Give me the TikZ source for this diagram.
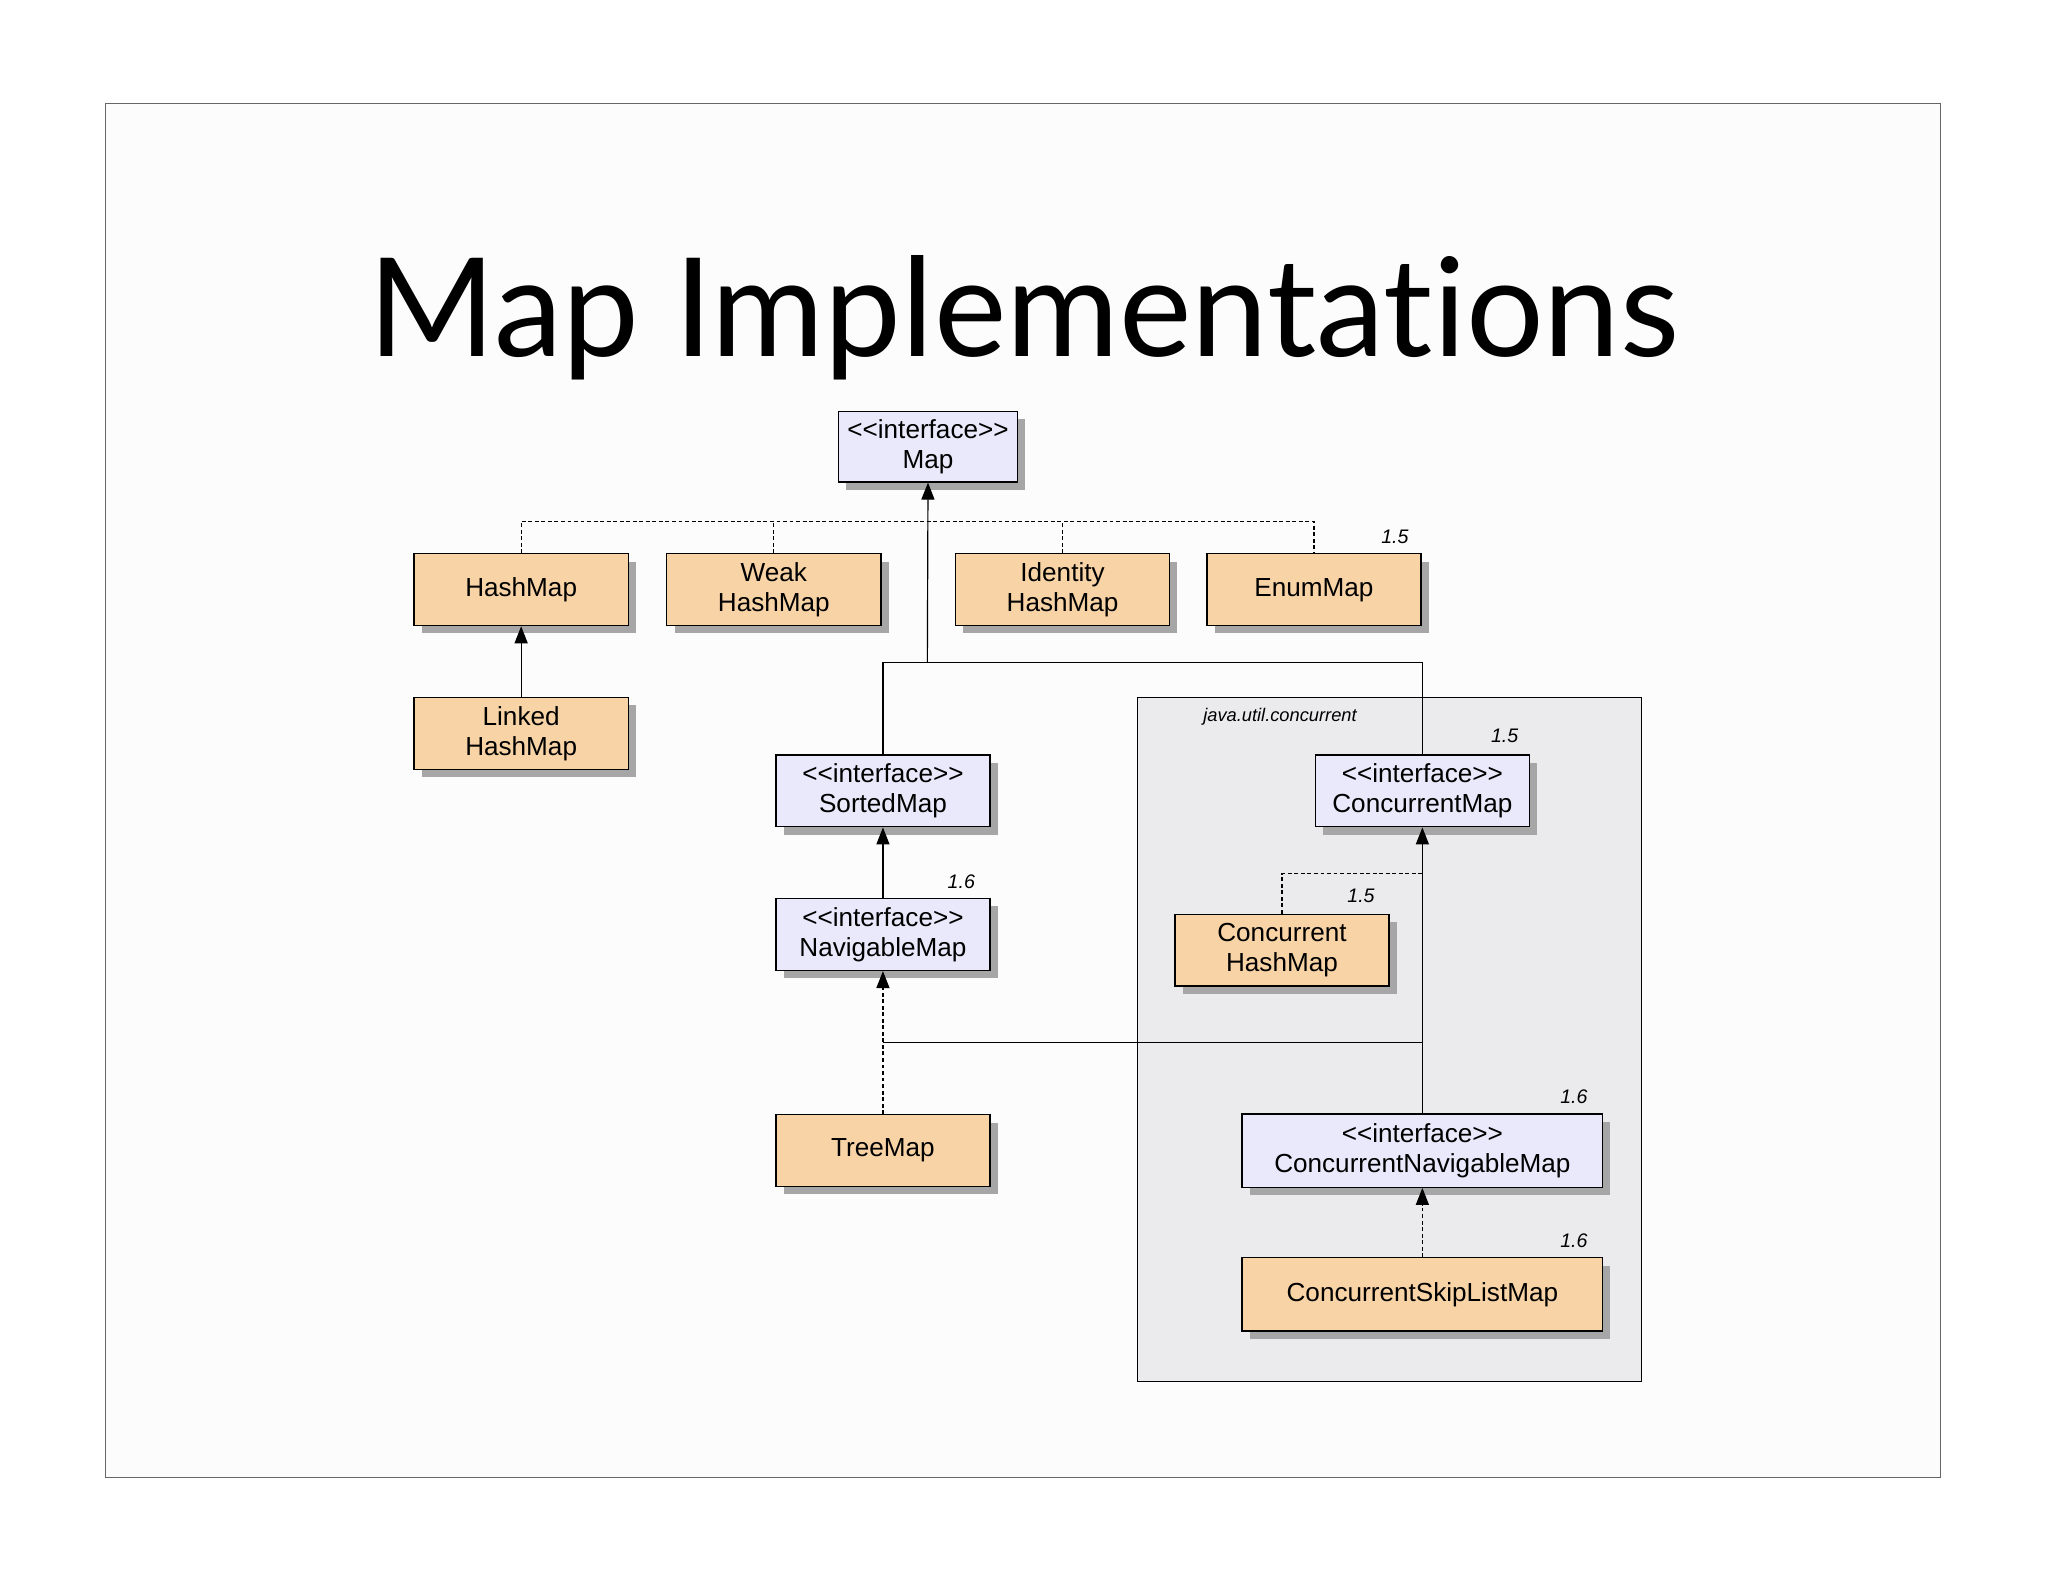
\documentclass[tikz,border=0pt]{standalone}
\usepackage{fontspec}
\setmainfont{Liberation Sans}
\newfontfamily\titlefont[Ligatures={NoCommon,NoRare}]{Lato}
\usetikzlibrary{arrows.meta,shadows}
\definecolor{ifc}{HTML}{E9E9FB}
\definecolor{clc}{HTML}{F8D3A6}
\definecolor{pkg}{HTML}{EBEBED}
\newcommand{\ifl}{{<}{<}interface{>}{>}}
\tikzset{
 box/.style={draw=black, line width=1pt, inner sep=0pt, align=center, font=\fontsize{20}{23}\selectfont,
   drop shadow={shadow xshift=6pt, shadow yshift=-6pt, fill=black!35, opacity=1}},
 ifbox/.style={box, fill=ifc},
 clbox/.style={box, fill=clc},
 w1/.style={minimum width=164pt, minimum height=55pt},
 ln/.style={line width=0.9pt},
 dsh/.style={ln, dash pattern=on 3pt off 2pt},
 tip/.style={-{Triangle[length=13pt,width=10pt]}},
 ver/.style={font=\itshape\fontsize{15}{17}\selectfont}
}
\begin{document}
\begin{tikzpicture}[x=1pt,y=-1pt]
\fill[white] (0,0) rectangle (1568,1211);
\useasboundingbox (0,0) rectangle (1568,1211);
\draw[black!60, line width=0.8pt, fill=black!1] (81,79) rectangle (1486,1131);
\node[font=\titlefont\fontsize{105}{115}\selectfont] (title) at (784,243) {Map Implementations};
\draw[line width=0.9pt, fill=pkg] (871,534) rectangle (1257,1058);
\node[ver, font=\itshape\fontsize{14}{16}\selectfont] (pkgl) at (980,549) {java.util.concurrent};

\node[ifbox, minimum width=137pt, minimum height=54pt] (map) at (710.5,342) {\ifl\\Map};
\node[clbox, w1] (hm) at (399,451.5) {HashMap};
\node[clbox, w1] (whm) at (592.5,451.5) {Weak\\HashMap};
\node[clbox, w1] (ihm) at (813.5,451.5) {Identity\\HashMap};
\node[clbox, w1] (em) at (1006,451.5) {EnumMap};
\node[clbox, w1] (lhm) at (399,561.5) {Linked\\HashMap};
\node[ifbox, w1] (sm) at (676,605.5) {\ifl\\SortedMap};
\node[ifbox, w1] (nm) at (676,715.5) {\ifl\\NavigableMap};
\node[clbox, w1] (tm) at (676,881) {TreeMap};
\node[ifbox, w1] (cm) at (1089,605.5) {\ifl\\ConcurrentMap};
\node[clbox, w1] (chm) at (981.5,727.5) {Concurrent\\HashMap};
\node[ifbox, minimum width=276pt, minimum height=56pt] (cnm) at (1089,881) {\ifl\\ConcurrentNavigableMap};
\node[clbox, minimum width=276pt, minimum height=56pt] (csl) at (1089,991) {ConcurrentSkipListMap};

\node[ver] (v1) at (1068,411) {1.5};
\node[ver] (v2) at (1152,563) {1.5};
\node[ver] (v3) at (1042,686) {1.5};
\node[ver] (v4) at (736,675) {1.6};
\node[ver] (v5) at (1205,840) {1.6};
\node[ver] (v6) at (1205,950) {1.6};

\coordinate (j) at (710,399);
\draw[dsh] (hm.north) |- (j) -| (em.north);
\draw[dsh] (whm.north) -- (whm.north |- j);
\draw[dsh] (ihm.north) -- (ihm.north |- j);
\coordinate (top) at (710,507);
\draw[ln, tip] (top) -- (map.south);
\draw[ln] (sm.north) |- (top) -| (cm.north);
\draw[ln, tip] (lhm.north) -- (hm.south);
\draw[ln, tip] (sm.north |- nm.north) -- (sm.south);
\draw[dsh, tip] (tm.north) -- (nm.south);
\coordinate (nj) at (676,798);
\draw[ln] (cnm.north) |- (nj);
\draw[ln, tip] (cnm.north) -- (cm.south);
\draw[dsh] (chm.north) |- (1089,669);
\draw[dsh, tip] (csl.north) -- (cnm.south);
\end{tikzpicture}
\end{document}
